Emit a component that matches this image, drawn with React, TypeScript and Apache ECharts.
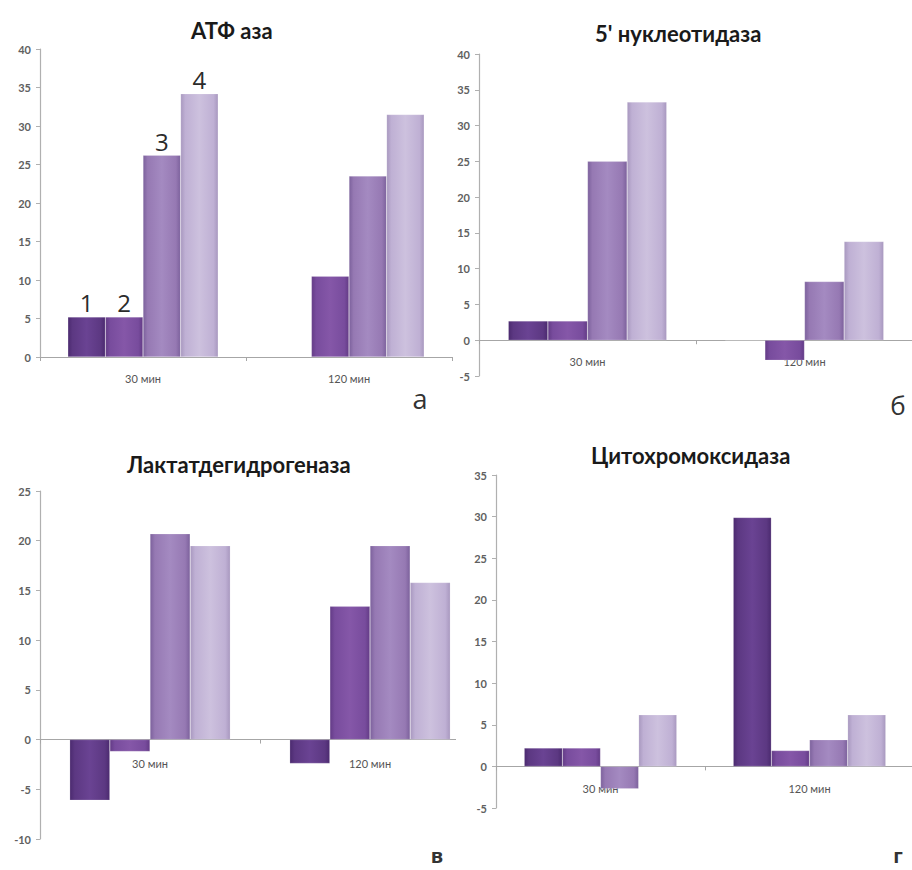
import React, { useEffect, useRef } from "react";
import * as echarts from "echarts";

const categories = ["30 мин", "120 мин"];

// АТФ аза
const atpS1 = [5.2, null];
const atpS2 = [5.2, 10.5];
const atpS3 = [26.2, 23.5];
const atpS4 = [34.2, 31.5];

// 5' нуклеотидаза
const nucS1 = [2.7, 0];
const nucS2 = [2.7, -2.8];
const nucS3 = [25.0, 8.2];
const nucS4 = [33.3, 13.8];

// Лактатдегидрогеназа
const ldhS1 = [-6.1, -2.4];
const ldhS2 = [-1.2, 13.4];
const ldhS3 = [20.7, 19.5];
const ldhS4 = [19.5, 15.8];

// Цитохромоксидаза
const coxS1 = [2.2, 29.9];
const coxS2 = [2.2, 1.9];
const coxS3 = [-2.7, 3.2];
const coxS4 = [6.2, 6.2];

const seriesNumbers = ["1", "2", "3", "4"];

const titles = ["АТФ аза", "5' нуклеотидаза", "Лактатдегидрогеназа", "Цитохромоксидаза"];
const panelLetters = ["а", "б", "в", "г"];

const colorPairs: [string, string, string][] = [
  ["#4b2a6f", "#6a4393", "#5c3882"],
  ["#633b86", "#8557a8", "#784c9d"],
  ["#7c619c", "#a48ac1", "#9679b3"],
  ["#a898bf", "#cdc1de", "#bfb0d4"],
];

function grad(i: number) {
  const [edge, light, base] = colorPairs[i];
  return new echarts.graphic.LinearGradient(0, 0, 1, 0, [
    { offset: 0, color: edge },
    { offset: 0.12, color: base },
    { offset: 0.5, color: light },
    { offset: 0.88, color: base },
    { offset: 1, color: edge },
  ]);
}

type Panel = {
  data: (number | null)[][];
  min: number;
  max: number;
  grid: { left: number; top: number; width: number; height: number };
  titleLeft: number;
  titleTop: number;
  letter: { x: number; y: number; size: number; weight: string };
  numbered: boolean;
  labelMargin: number;
  box: { left: number; top: number; width: number; height: number };
};

const panels: Panel[] = [
  {
    data: [atpS1, atpS2, atpS3, atpS4],
    min: 0,
    max: 40,
    grid: { left: 40, top: 49, width: 412, height: 308 },
    titleLeft: 186,
    titleTop: 14,
    letter: { x: 420, y: 398, size: 27, weight: "normal" },
    numbered: true,
    labelMargin: 16,
    box: { left: 0, top: 0, width: 456, height: 430 },
  },
  {
    data: [nucS1, nucS2, nucS3, nucS4],
    min: -5,
    max: 40,
    grid: { left: 23, top: 54, width: 434, height: 322 },
    titleLeft: 134,
    titleTop: 17,
    letter: { x: 442, y: 405, size: 26, weight: "normal" },
    numbered: false,
    labelMargin: 16,
    box: { left: 456, top: 0, width: 456, height: 430 },
  },
  {
    data: [ldhS1, ldhS2, ldhS3, ldhS4],
    min: -10,
    max: 25,
    grid: { left: 40, top: 61, width: 440, height: 348 },
    titleLeft: 122,
    titleTop: 18,
    letter: { x: 437, y: 425, size: 20, weight: "bold" },
    numbered: false,
    labelMargin: 18,
    box: { left: 0, top: 430, width: 456, height: 440 },
  },
  {
    data: [coxS1, coxS2, coxS3, coxS4],
    min: -5,
    max: 35,
    grid: { left: 40, top: 45, width: 418, height: 333 },
    titleLeft: 130,
    titleTop: 9,
    letter: { x: 442, y: 425, size: 20, weight: "bold" },
    numbered: false,
    labelMargin: 17,
    box: { left: 456, top: 430, width: 456, height: 440 },
  },
];

function buildOption(p: Panel, idx: number) {
  // place the category axis at value 0 through the value scale
  const zeroOffset = -((0 - p.min) / (p.max - p.min)) * p.grid.height;
  return {
    animation: false,
    backgroundColor: "#ffffff",
    title: {
      text: titles[idx],
      left: p.titleLeft,
      top: p.titleTop,
      textStyle: {
        fontFamily: "Lato",
        fontWeight: "bold",
        fontSize: 22,
        color: "#1a1a1a",
      },
    },
    grid: { ...p.grid, containLabel: false, outerBoundsMode: "none" },
    xAxis: {
      type: "category",
      data: categories,
      position: "bottom",
      offset: zeroOffset,
      axisLine: { onZero: false, lineStyle: { color: "#a6a6a6", width: 1.2 } },
      axisTick: { show: true, length: 4, lineStyle: { color: "#a6a6a6" } },
      axisLabel: {
        fontFamily: "Lato",
        fontSize: 11,
        color: "#555",
        margin: p.labelMargin,
      },
      splitLine: { show: false },
    },
    yAxis: {
      type: "value",
      min: p.min,
      max: p.max,
      interval: 5,
      axisLine: { show: true, lineStyle: { color: "#b0b0b0", width: 1.2 } },
      axisTick: { show: true, length: 4, lineStyle: { color: "#b0b0b0" } },
      axisLabel: {
        fontFamily: "Lato",
        fontWeight: "bold",
        fontSize: 11,
        color: "#606060",
        margin: 9,
      },
      splitLine: { show: false },
    },
    series: p.data.map((d, i) => ({
      type: "bar",
      name: seriesNumbers[i],
      data: d,
      barGap: "0%",
      barCategoryGap: "27%",
      itemStyle: { color: grad(i), borderColor: "rgba(255,255,255,0.35)", borderWidth: 0.5 },
      label: p.numbered
        ? {
            show: true,
            position: "top",
            distance: 2,
            fontFamily: "Open Sans",
            fontSize: 24,
            color: "#2b2b2b",
            formatter: (prm: any) => (prm.dataIndex === 0 ? seriesNumbers[i] : ""),
          }
        : { show: false },
    })),
    graphic: [
      {
        type: "text",
        x: p.letter.x,
        y: p.letter.y,
        style: {
          text: panelLetters[idx],
          fontFamily: "Open Sans",
          fontSize: p.letter.size,
          fontWeight: p.letter.weight,
          fill: "#333",
          textAlign: "center",
          textVerticalAlign: "middle",
        },
      },
    ],
  };
}

function ChartPanel({ p, idx }: { p: Panel; idx: number }) {
  const ref = useRef<HTMLDivElement>(null);
  useEffect(() => {
    if (!ref.current) return;
    const chart = echarts.init(ref.current, undefined, { renderer: "svg" });
    chart.setOption(buildOption(p, idx) as any);
    return () => chart.dispose();
  }, [p, idx]);
  return (
    <div
      ref={ref}
      style={{
        position: "absolute",
        left: p.box.left,
        top: p.box.top,
        width: p.box.width,
        height: p.box.height,
        overflow: "hidden",
      }}
    />
  );
}

export default function App() {
  return (
    <div
      style={{
        position: "fixed",
        left: 0,
        top: 0,
        width: 912,
        height: 870,
        background: "#fff",
        overflow: "hidden",
      }}
    >
      {panels.map((p, i) => (
        <ChartPanel key={i} p={p} idx={i} />
      ))}
    </div>
  );
}
